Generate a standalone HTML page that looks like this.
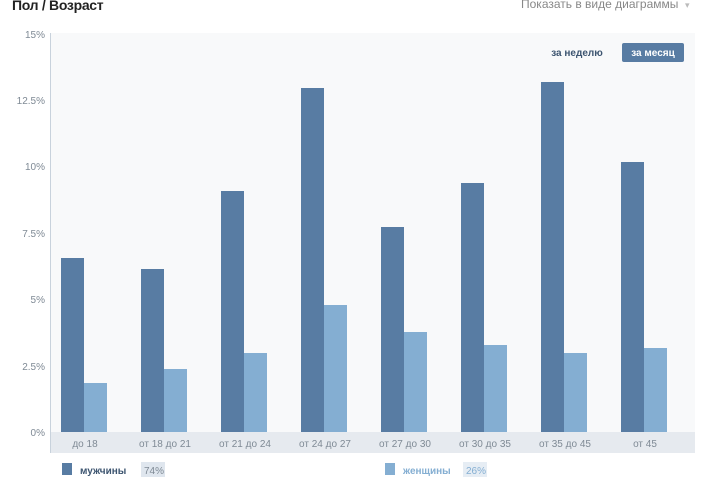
<!DOCTYPE html>
<html><head><meta charset="utf-8"><style>
body{margin:0;width:720px;height:480px;background:#fff;font-family:"Liberation Sans",sans-serif;position:relative;overflow:hidden}
.t{position:absolute;white-space:nowrap}
</style></head><body>
<div class="t" style="left:12px;top:-3px;font-size:14px;color:#222;font-weight:bold;letter-spacing:-0.3px">Пол / Возраст</div>
<div class="t" style="left:521px;top:-3px;font-size:12px;color:#888">Показать в виде диаграммы &nbsp;<span style="color:#bbb;font-size:9px">▾</span></div>
<svg width="720" height="480" style="position:absolute;left:0;top:0">
<rect x="50" y="33" width="645" height="399" fill="#f8f9fa"/>
<rect x="50" y="432" width="645" height="21" fill="#e6eaef"/>
<line x1="50.5" y1="33" x2="50.5" y2="453" stroke="#c8d2dc"/>
<g font-size="10" fill="#7f8a95" text-anchor="end" font-family="Liberation Sans">
<text x="45" y="38">15%</text><text x="45" y="104">12.5%</text><text x="45" y="170">10%</text>
<text x="45" y="237">7.5%</text><text x="45" y="303">5%</text><text x="45" y="370">2.5%</text><text x="45" y="436">0%</text>
</g>
<g fill="#587ca3">
<rect x="61" y="258" width="23" height="174"/><rect x="141" y="269" width="23" height="163"/>
<rect x="221" y="191" width="23" height="241"/><rect x="301" y="88" width="23" height="344"/>
<rect x="381" y="227" width="23" height="205"/><rect x="461" y="183" width="23" height="249"/>
<rect x="541" y="82" width="23" height="350"/><rect x="621" y="162" width="23" height="270"/>
</g>
<g fill="#84aed2">
<rect x="84" y="383" width="23" height="49"/><rect x="164" y="369" width="23" height="63"/>
<rect x="244" y="353" width="23" height="79"/><rect x="324" y="305" width="23" height="127"/>
<rect x="404" y="332" width="23" height="100"/><rect x="484" y="345" width="23" height="87"/>
<rect x="564" y="353" width="23" height="79"/><rect x="644" y="348" width="23" height="84"/>
</g>
<g font-size="10" fill="#7f8a95" text-anchor="middle" font-family="Liberation Sans">
<text x="85" y="447">до 18</text><text x="165" y="447">от 18 до 21</text><text x="245" y="447">от 21 до 24</text>
<text x="325" y="447">от 24 до 27</text><text x="405" y="447">от 27 до 30</text><text x="485" y="447">от 30 до 35</text>
<text x="565" y="447">от 35 до 45</text><text x="645" y="447">от 45</text>
</g>
<rect x="622" y="43" width="62" height="19" rx="2" fill="#587ca3"/>
<text x="653" y="56" font-size="10" font-weight="bold" fill="#fff" text-anchor="middle" font-family="Liberation Sans">за месяц</text>
<text x="577" y="56" font-size="10" font-weight="bold" fill="#3d5570" text-anchor="middle" font-family="Liberation Sans">за неделю</text>
<rect x="62" y="463" width="10" height="12" fill="#587ca3"/>
<text x="80" y="474" font-size="10" font-weight="bold" fill="#3d5570" font-family="Liberation Sans">мужчины</text>
<rect x="141" y="462" width="24" height="15" fill="#dfe6ee"/>
<text x="144" y="474" font-size="10" fill="#7f8a95" font-family="Liberation Sans">74%</text>
<rect x="385" y="463" width="10" height="12" fill="#84aed2"/>
<text x="403" y="474" font-size="10" font-weight="bold" fill="#84aed2" font-family="Liberation Sans">женщины</text>
<rect x="463" y="462" width="24" height="15" fill="#e6edf4"/>
<text x="466" y="474" font-size="10" fill="#84aed2" font-family="Liberation Sans">26%</text>
</svg>
</body></html>
